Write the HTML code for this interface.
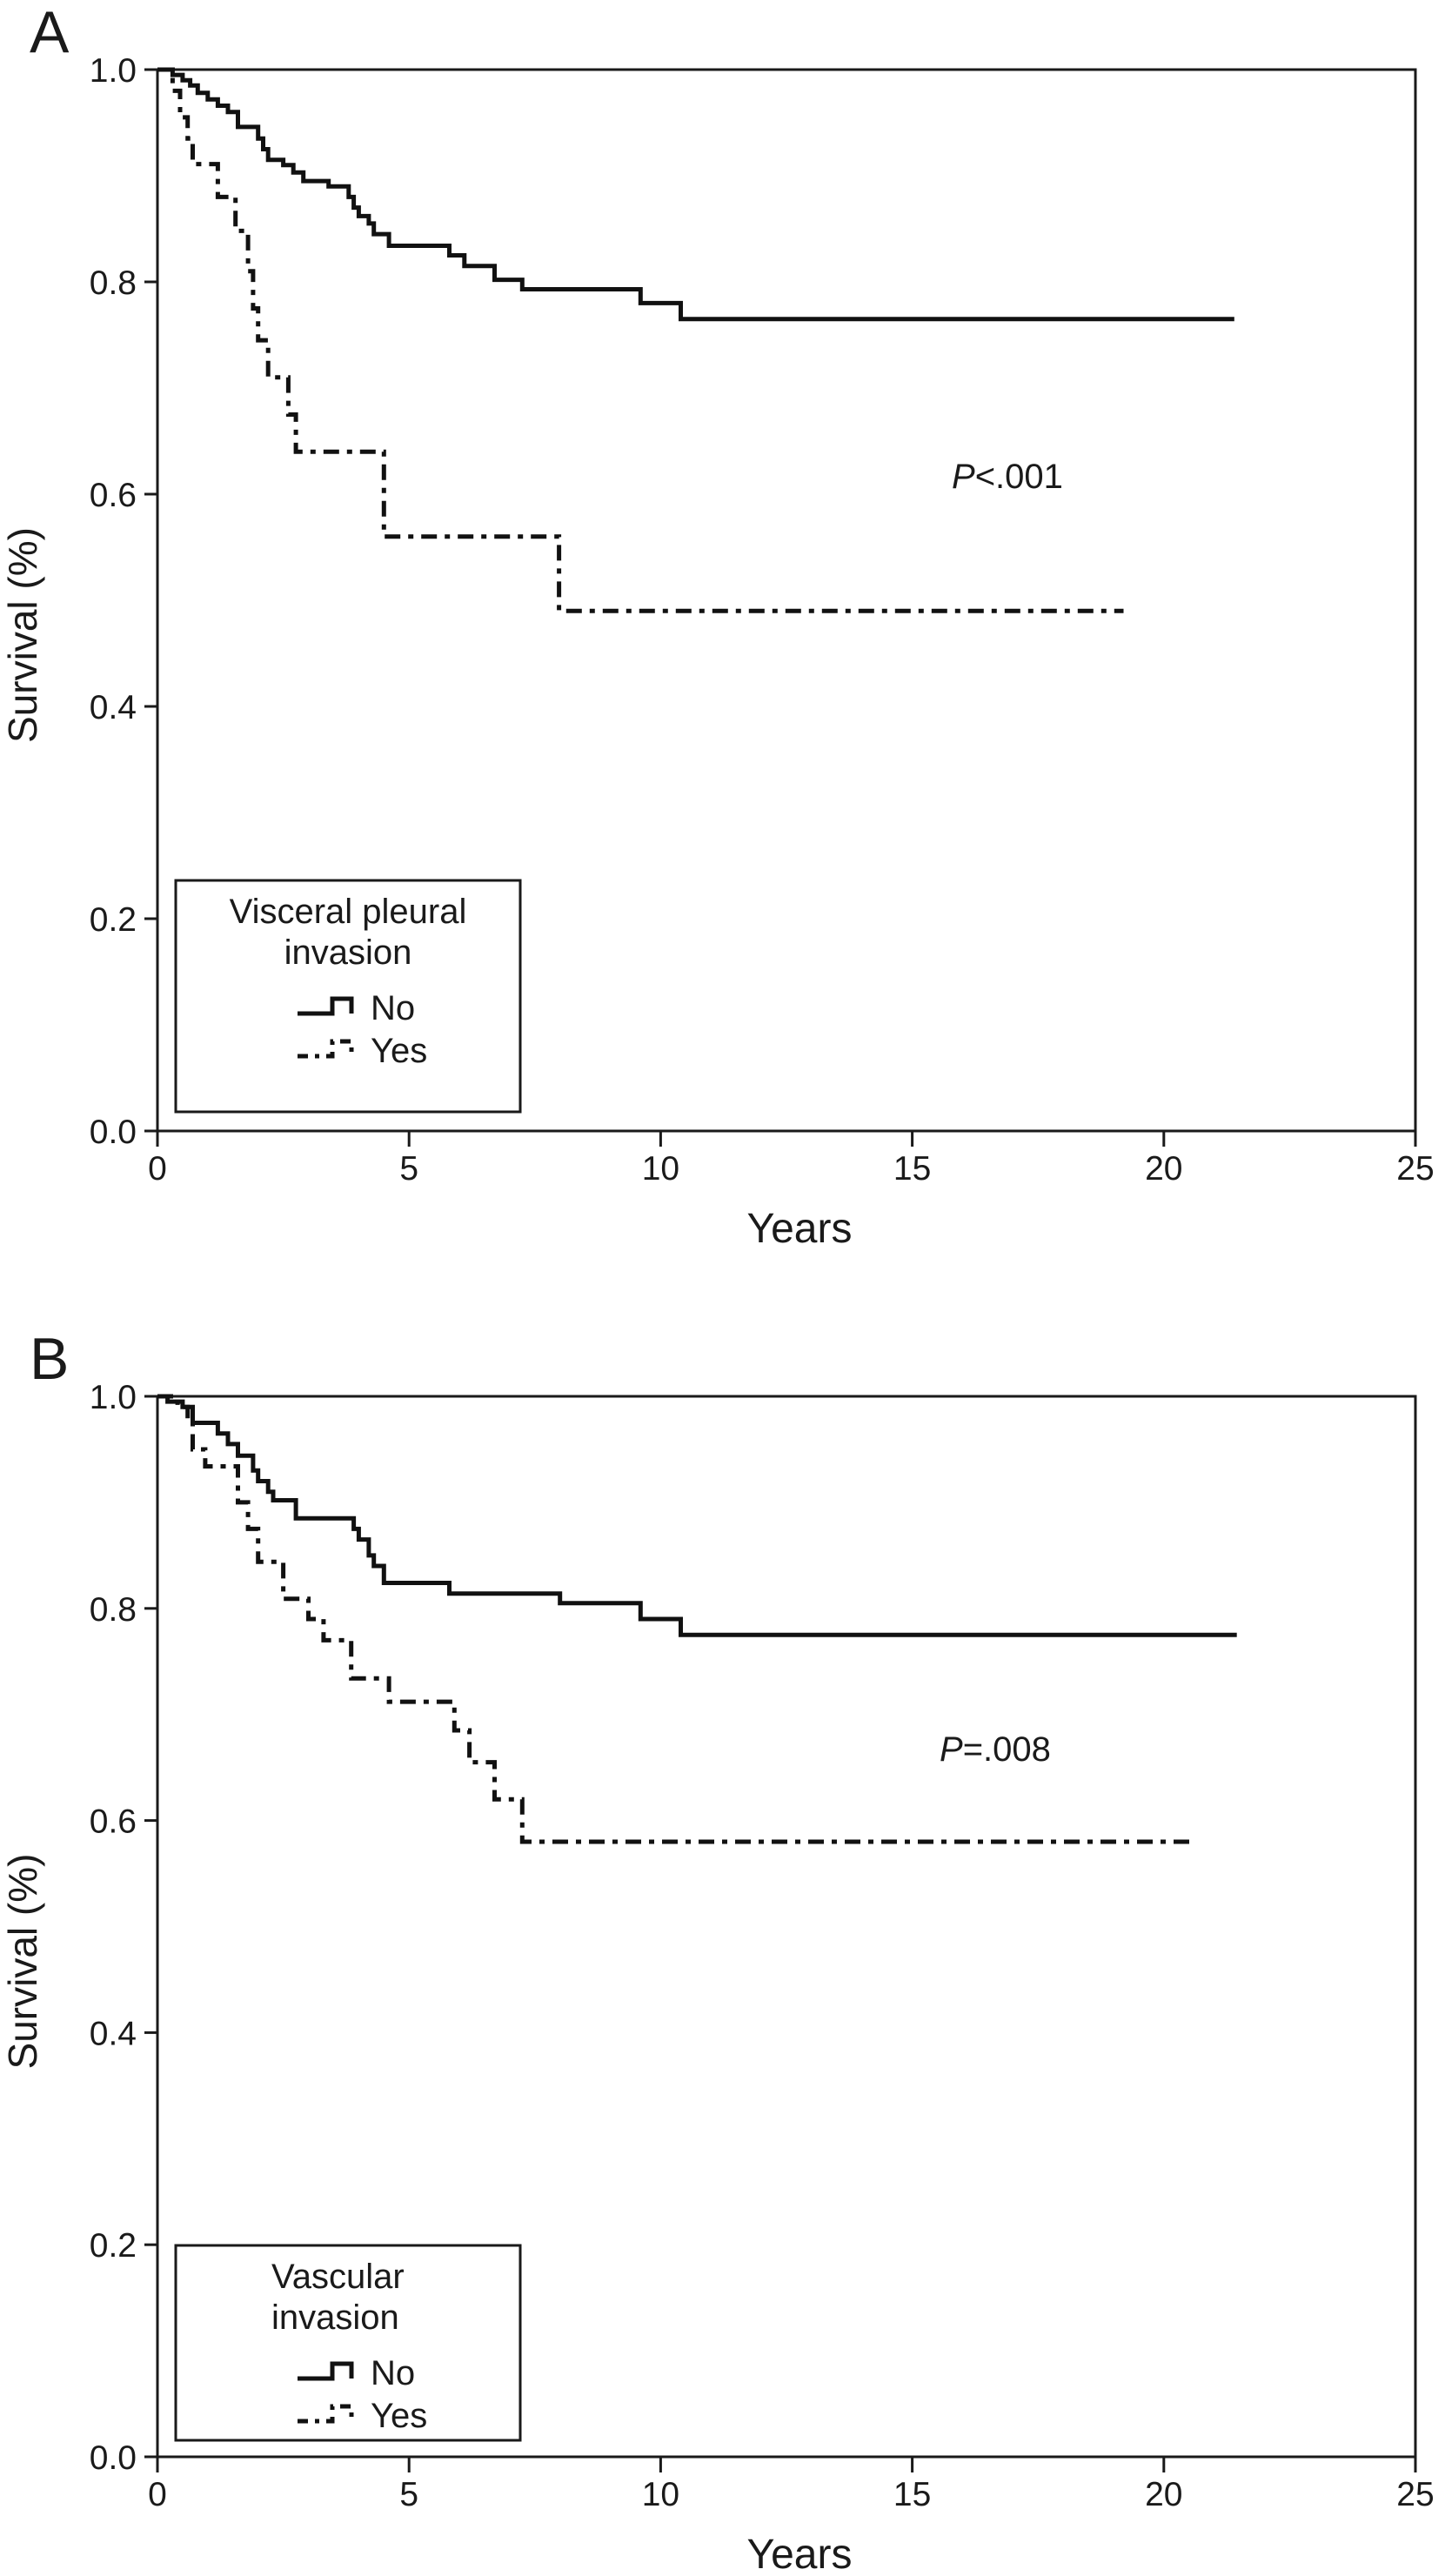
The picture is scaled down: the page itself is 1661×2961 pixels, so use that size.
<!DOCTYPE html>
<html><head><meta charset="utf-8"><style>
html,body{margin:0;padding:0;background:#fff;}
svg{display:block;}
text{font-family:"Liberation Sans",sans-serif;fill:#1a1a1a;}
</style></head><body>
<svg id="fig" width="1661" height="2961" viewBox="0 0 1661 2961" xmlns="http://www.w3.org/2000/svg"></svg>
<script>
// Panel A data: step times (years) and survival values
const aNoTimes = [0.3,0.5,0.65,0.8,1.0,1.2,1.4,1.6,2.0,2.1,2.2,2.5,2.7,2.9,3.4,3.8,3.9,4.0,4.2,4.3,4.6,5.8,6.1,6.7,7.25,9.6,10.4];
const aNoVals  = [0.995,0.99,0.985,0.978,0.972,0.966,0.96,0.946,0.935,0.925,0.915,0.91,0.903,0.895,0.89,0.88,0.87,0.862,0.855,0.845,0.834,0.825,0.815,0.802,0.793,0.78,0.765];
const aNoEnd = 21.4;
const aYesTimes = [0.3,0.45,0.6,0.7,1.2,1.55,1.8,1.9,2.0,2.2,2.6,2.75,4.5,7.98];
const aYesVals  = [0.98,0.955,0.935,0.911,0.88,0.848,0.81,0.775,0.745,0.71,0.675,0.64,0.56,0.49];
const aYesEnd = 19.2;
// Panel B data
const bNoTimes = [0.2,0.5,0.7,1.2,1.4,1.6,1.9,2.0,2.2,2.3,2.75,3.9,4.0,4.2,4.3,4.5,5.8,8.0,9.6,10.4];
const bNoVals  = [0.995,0.99,0.975,0.965,0.955,0.944,0.93,0.92,0.91,0.902,0.885,0.875,0.865,0.85,0.84,0.824,0.814,0.805,0.79,0.775];
const bNoEnd = 21.45;
const bYesTimes = [0.4,0.6,0.7,0.95,1.6,1.8,2.0,2.5,3.0,3.3,3.85,4.6,5.9,6.2,6.7,7.25];
const bYesVals  = [0.99,0.975,0.95,0.934,0.90,0.875,0.844,0.809,0.79,0.77,0.734,0.712,0.685,0.655,0.62,0.58];
const bYesEnd = 20.6;
// Axis ticks
const xTicks = [0,5,10,15,20,25];
const xTickLabels = ["0","5","10","15","20","25"];
const yTicks = [0,0.2,0.4,0.6,0.8,1.0];
const yTickLabels = ["0.0","0.2","0.4","0.6","0.8","1.0"];

const NS = "http://www.w3.org/2000/svg";
const svg = document.getElementById('fig');
function mk(tag, attrs, parent){
  const e = document.createElementNS(NS, tag);
  for (const k in attrs) e.setAttribute(k, attrs[k]);
  (parent||svg).appendChild(e);
  return e;
}
const X0 = 181, X1 = 1627;
function panel(id, top, bottom, letter, legendTitle, pText, pX, pY, noT, noV, noEnd, yesT, yesV, yesEnd, legTop, legBot){
  const g = mk('g', {});
  
  
  const xs = t => X0 + (t/25)*(X1-X0);
  const ys = v => bottom - v*(bottom-top);
  const lab = mk('text', {x:34, y:top-20, 'font-size':68}, g);
  lab.textContent = letter;
  
  
  const fr = mk('rect', {x:X0, y:top, width:X1-X0, height:bottom-top, fill:'none', stroke:'#1a1a1a', 'stroke-width':3}, g);
  
  
  xTicks.forEach((t,i)=>{
    const x = xs(t);
    const tk = mk('line', {x1:x, y1:bottom, x2:x, y2:bottom+18, stroke:'#1a1a1a', 'stroke-width':3}, g);
    
    
    const tl = mk('text', {x:x, y:bottom+56, 'font-size':39, 'text-anchor':'middle'}, g);
    tl.textContent = xTickLabels[i];
    
    
  });
  yTicks.forEach((v,i)=>{
    const y = ys(v);
    const tk = mk('line', {x1:X0-15, y1:y, x2:X0, y2:y, stroke:'#1a1a1a', 'stroke-width':3}, g);
    
    
    const tl = mk('text', {x:157, y:y+14, 'font-size':39, 'text-anchor':'end'}, g);
    tl.textContent = yTickLabels[i];
    
    
  });
  const xt = mk('text', {x:919, y:bottom+128, 'font-size':48, 'text-anchor':'middle'}, g);
  xt.textContent = 'Years';
  
  
  const cy = (top+bottom)/2 + 40;
  const yt = mk('text', {x:0, y:0, 'font-size':46, 'text-anchor':'middle', transform:'translate(42,'+cy+') rotate(-90)'}, g);
  yt.textContent = 'Survival (%)';
  
  
  function stepPath(T, V, end){
    let d = 'M' + xs(0) + ',' + ys(1);
    let prev = 1;
    for (let i=0;i<T.length;i++){
      d += ' H' + xs(T[i]).toFixed(1) + ' V' + ys(V[i]).toFixed(1);
    }
    d += ' H' + xs(end).toFixed(1);
    return d;
  }
  const pn = mk('path', {d:stepPath(noT,noV,noEnd), fill:'none', stroke:'#111', 'stroke-width':5}, g);
  
  
  const py = mk('path', {d:stepPath(yesT,yesV,yesEnd), fill:'none', stroke:'#111', 'stroke-width':5, 'stroke-dasharray':'18,9,6,9'}, g);
  
  
  const pt = mk('text', {x:pX, y:pY, 'font-size':40}, g);
  pt.innerHTML = '<tspan font-style="italic">P</tspan>' + pText;
  
  
  // legend
  const lg = mk('g', {}, g);
  
  
  mk('rect', {x:202, y:legTop, width:396, height:legBot-legTop, fill:'#fff', stroke:'#1a1a1a', 'stroke-width':3}, lg);
  const lines = legendTitle;
  lines.forEach((s,i)=>{
    const t = mk('text', {x:lines.align, y:legTop+49+i*47, 'font-size':40, 'text-anchor':lines.anchor}, lg);
    t.textContent = s;
    
    
  });
  const ny = legTop + 160, yy = legTop + 209;
  const ln = mk('path', {d:'M342,'+(ny-7)+' H382 V'+(ny-24)+' H404 V'+(ny-7), fill:'none', stroke:'#111', 'stroke-width':5}, lg);
  
  
  const tn = mk('text', {x:426, y:ny, 'font-size':40}, lg);
  tn.textContent = 'No';
  
  
  const ly = mk('path', {d:'M342,'+(yy-7)+' H382 V'+(yy-24)+' H404 V'+(yy-7), fill:'none', stroke:'#111', 'stroke-width':5, 'stroke-dasharray':'12,8,5,8'}, lg);
  
  
  const tyy = mk('text', {x:426, y:yy, 'font-size':40}, lg);
  tyy.textContent = 'Yes';
  
  
}
const tA = ['Visceral pleural','invasion']; tA.align = 400; tA.anchor = 'middle';
const tB = ['Vascular','invasion']; tB.align = 312; tB.anchor = 'start';
panel('a', 80, 1300, 'A', tA, '<.001', 1094, 561, aNoTimes, aNoVals, aNoEnd, aYesTimes, aYesVals, aYesEnd, 1012, 1278);
panel('b', 1605, 2824, 'B', tB, '=.008', 1080, 2024, bNoTimes, bNoVals, bNoEnd, bYesTimes, bYesVals, bYesEnd, 2581, 2805);
</script>
</body></html>
